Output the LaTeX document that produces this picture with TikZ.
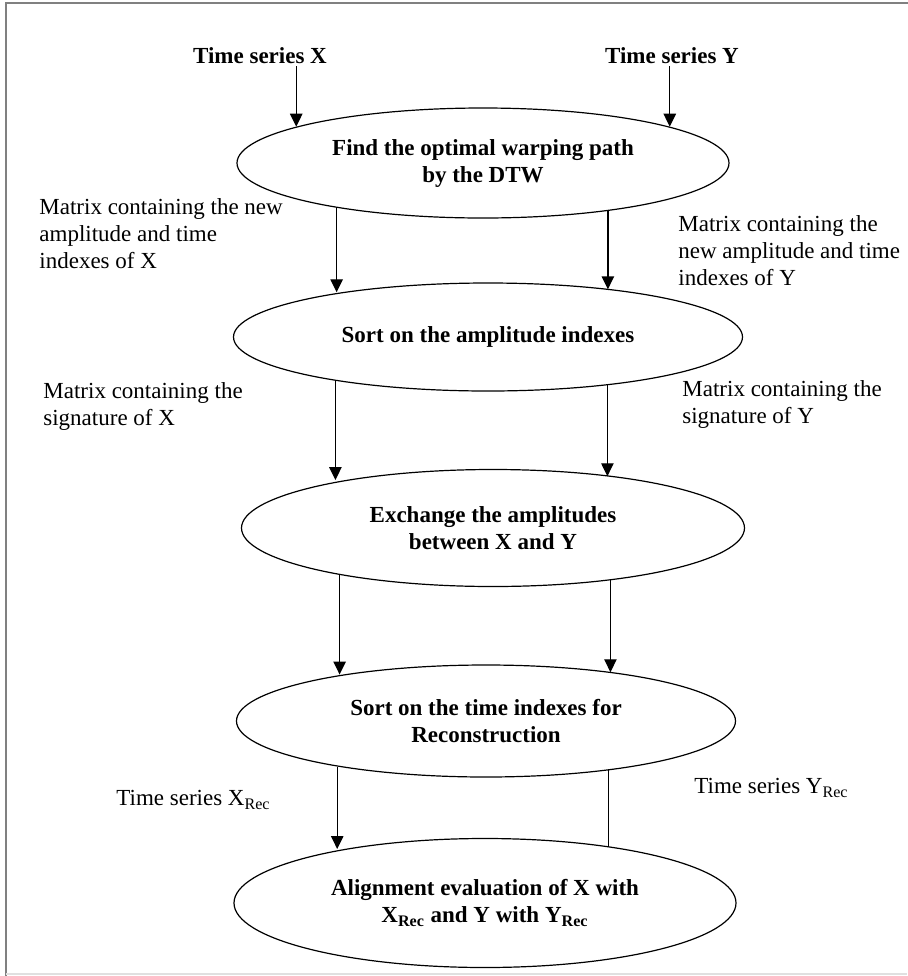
\documentclass[tikz,border=0pt]{standalone}
\usepackage{fontspec}
\setmainfont{Liberation Serif}
\usepackage{tikz}
\usetikzlibrary{shapes.geometric,arrows.meta}

\begin{document}
\begin{tikzpicture}[x=0.5pt,y=-0.5pt,
  proc/.style n args={2}{ellipse,draw,line width=0.6pt,inner sep=0pt,minimum width=#1pt,minimum height=#2pt,align=center,font=\bfseries\fontsize{11.5}{13.5}\selectfont},
  lbl/.style={inner sep=0pt,anchor=west,align=left,font=\fontsize{11.5}{13.5}\selectfont},
  ts/.style={inner sep=1pt,font=\bfseries\fontsize{11.5}{13.5}\selectfont},
  arr/.style={line width=0.7pt,-{Triangle[length=6.5pt,width=6.2pt]}},
  lin/.style={line width=0.7pt}]
\useasboundingbox (0,0) rectangle (907,976);
\draw[black!50,line width=1pt] (6,990) -- (6,3) -- (920,3);
\draw[black!12,line width=0.6pt] (6,974) -- (907,974);

\node[ts](tsX) at (260,56) {Time series X};
\node[ts](tsY) at (672,56) {Time series Y};

\node[proc={246}{55}](e1) at (483,163) {Find the optimal warping path\\by the DTW};
\node[proc={254.5}{54}](e2) at (488,337) {Sort on the amplitude indexes};
\node[proc={251.5}{58.5}](e3) at (493,528) {Exchange the amplitudes\\between X and Y};
\node[proc={249.5}{56}](e4) at (486,721) {Sort on the time indexes for\\Reconstruction};
\node[proc={251}{64.5}](e5) at (485,903) {Alignment evaluation of X with\\X\textsubscript{Rec} and Y with Y\textsubscript{Rec}};

\node[lbl](mX1) at (39,234) {Matrix containing the new\\amplitude and time\\indexes of X};
\node[lbl](mY1) at (678,251) {Matrix containing the\\new amplitude and time\\indexes of Y};
\node[lbl](mX2) at (43,406) {Matrix containing the\\signature of X};
\node[lbl](mY2) at (682,404) {Matrix containing the\\signature of Y};
\node[lbl](rX) at (116,800) {Time series X\textsubscript{Rec}};
\node[lbl](rY) at (694,788) {Time series Y\textsubscript{Rec}};

\draw[arr] (e1.169.7 |- tsX.south) -- (e1.169.7);
\draw[arr] (e1.11.8 |- tsY.south) -- (e1.11.8);
\draw[arr] (e1.197.7) -- (e1.197.7 |- e2.163.2);
\draw[arr] (e1.339.6) -- (e1.339.6 |- e2.21.2);
\draw[arr] (e2.196.8) -- (e2.196.8 |- e3.162.8);
\draw[arr] (e2.338.8) -- (e2.338.8 |- e3.23.9);
\draw[arr] (e3.197.2) -- (e3.197.2 |- e4.162.4);
\draw[arr] (e3.336.1) -- (e3.336.1 |- e4.21.4);
\draw[arr] (e4.197.6) -- (e4.197.6 |- e5.159.7);
\draw[lin] (e4.338.6) -- (e4.338.6 |- e5.24.1);
\end{tikzpicture}
\end{document}
